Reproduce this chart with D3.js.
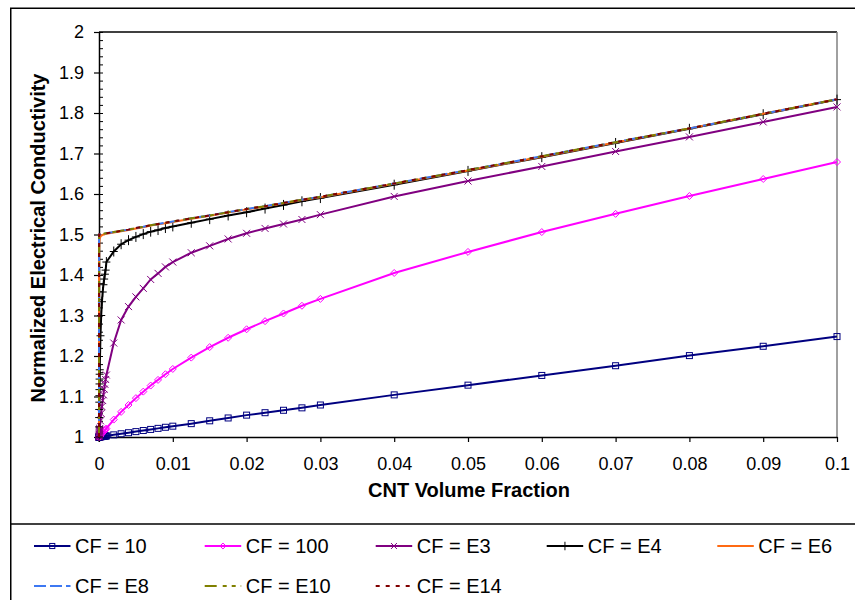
<!DOCTYPE html>
<html>
<head>
<meta charset="utf-8">
<script src="https://cdn.jsdelivr.net/npm/d3@7"></script>
<style>
  body { margin: 0; background: #fff; }
  svg { display: block; }
  text { font-family: "Liberation Sans", Arial, sans-serif; fill: #000; }
</style>
</head>
<body>
<svg id="chart" width="855" height="600"></svg>
<script>
// CNT volume fractions at which conductivity was evaluated
const xValues = [
  0,
  0.00001, 0.00002, 0.00003, 0.00004, 0.00005, 0.00006, 0.00007, 0.00008, 0.00009,
  0.0001, 0.0002, 0.0003, 0.0004, 0.0005, 0.0006, 0.0007, 0.0008, 0.0009,
  0.001, 0.002, 0.003, 0.004, 0.005, 0.006, 0.007, 0.008, 0.009, 0.01,
  0.0125, 0.015, 0.0175, 0.02, 0.0225, 0.025, 0.0275, 0.03,
  0.04, 0.05, 0.06, 0.07, 0.08, 0.09, 0.1
];

// Normalized electrical conductivity for each conductivity factor (CF)
const cf10 = [
  1,
  1.0000, 1.0001, 1.0001, 1.0001, 1.0001, 1.0002, 1.0002, 1.0002, 1.0002,
  1.0003, 1.0005, 1.0008, 1.0011, 1.0013, 1.0016, 1.0019, 1.0021, 1.0024,
  1.0027, 1.0053, 1.008, 1.0106, 1.0133, 1.016, 1.0187, 1.0213, 1.024, 1.0267,
  1.033, 1.040, 1.047, 1.054, 1.060, 1.066, 1.072, 1.079,
  1.104, 1.128, 1.152, 1.176, 1.201, 1.224, 1.248
];
const cf100 = [
  1,
  1.0002, 1.0004, 1.0007, 1.0009, 1.0011, 1.0013, 1.0015, 1.0018, 1.002,
  1.0022, 1.0044, 1.0066, 1.0088, 1.011, 1.013, 1.015, 1.017, 1.019,
  1.021, 1.043, 1.062, 1.079, 1.096, 1.112, 1.127, 1.141, 1.155, 1.168,
  1.196, 1.222, 1.245, 1.266, 1.286, 1.305, 1.324, 1.341,
  1.405, 1.457, 1.506, 1.551, 1.595, 1.637, 1.679
];
const cfE3 = [
  1,
  1.002, 1.004, 1.006, 1.008, 1.01, 1.012, 1.014, 1.016, 1.018,
  1.021, 1.04, 1.058, 1.075, 1.09, 1.104, 1.118, 1.13, 1.142,
  1.153, 1.232, 1.289, 1.322, 1.346, 1.367, 1.389, 1.404, 1.42, 1.432,
  1.455, 1.472, 1.489, 1.503, 1.515, 1.526, 1.537, 1.549,
  1.594, 1.632, 1.668, 1.705, 1.741, 1.778, 1.815
];
const cfE4 = [
  1,
  1.025, 1.048, 1.068, 1.086, 1.102, 1.117, 1.131, 1.143, 1.155,
  1.166, 1.25, 1.3, 1.334, 1.358, 1.376, 1.39, 1.402, 1.412,
  1.432, 1.458, 1.476, 1.486, 1.494, 1.501, 1.507, 1.511, 1.516, 1.52,
  1.529, 1.538, 1.547, 1.555, 1.564, 1.573, 1.582, 1.59,
  1.623, 1.657, 1.691, 1.726, 1.761, 1.797, 1.833
];
const cfE6 = [
  1,
  1.407, 1.449, 1.465, 1.474, 1.478, 1.482, 1.485, 1.487, 1.488,
  1.49, 1.495, 1.497, 1.498, 1.499, 1.5, 1.5, 1.501, 1.501,
  1.502, 1.505, 1.508, 1.511, 1.515, 1.518, 1.522, 1.525, 1.528, 1.531,
  1.539, 1.546, 1.554, 1.562, 1.569, 1.577, 1.585, 1.592,
  1.625, 1.658, 1.692, 1.727, 1.762, 1.798, 1.834
];
const cfE8 = [
  1,
  1.499, 1.499, 1.499, 1.5, 1.5, 1.5, 1.5, 1.5, 1.5,
  1.5, 1.5007, 1.501, 1.5013, 1.5017, 1.502, 1.5023, 1.5027, 1.503,
  1.503, 1.506, 1.509, 1.512, 1.516, 1.519, 1.523, 1.526, 1.529, 1.532,
  1.54, 1.547, 1.555, 1.563, 1.570, 1.578, 1.586, 1.593,
  1.626, 1.659, 1.693, 1.728, 1.762, 1.798, 1.834
];
const cfE10 = [
  1,
  1.5, 1.5, 1.5, 1.5, 1.5, 1.5, 1.5, 1.5, 1.5,
  1.5, 1.5007, 1.501, 1.5013, 1.5017, 1.502, 1.5023, 1.5027, 1.503,
  1.503, 1.506, 1.509, 1.512, 1.516, 1.519, 1.523, 1.526, 1.529, 1.532,
  1.54, 1.547, 1.555, 1.563, 1.570, 1.578, 1.586, 1.593,
  1.626, 1.659, 1.693, 1.728, 1.762, 1.798, 1.834
];
const cfE14 = [
  1,
  1.5, 1.5, 1.5, 1.5, 1.5, 1.5, 1.5, 1.5, 1.5,
  1.5, 1.5007, 1.501, 1.5013, 1.5017, 1.502, 1.5023, 1.5027, 1.503,
  1.503, 1.506, 1.509, 1.512, 1.516, 1.519, 1.523, 1.526, 1.529, 1.532,
  1.54, 1.547, 1.555, 1.563, 1.570, 1.578, 1.586, 1.593,
  1.626, 1.659, 1.693, 1.728, 1.762, 1.798, 1.834
];

const seriesLabels = ["CF = 10", "CF = 100", "CF = E3", "CF = E4", "CF = E6", "CF = E8", "CF = E10", "CF = E14"];
const xTickValues = [0, 0.01, 0.02, 0.03, 0.04, 0.05, 0.06, 0.07, 0.08, 0.09, 0.1];
const yTickValues = [1, 1.1, 1.2, 1.3, 1.4, 1.5, 1.6, 1.7, 1.8, 1.9, 2];
const xTitle = "CNT Volume Fraction";
const yTitle = "Normalized Electrical Conductivity";

// Series styling
const seriesStyle = [
  { values: cf10,  color: "#000080", dash: null, marker: "square" },
  { values: cf100, color: "#ff00ff", dash: null, marker: "diamond" },
  { values: cfE3,  color: "#800080", dash: null, marker: "cross" },
  { values: cfE4,  color: "#000000", dash: null, marker: "plus" },
  { values: cfE6,  color: "#ff6a13", dash: null, marker: null },
  { values: cfE8,  color: "#3d78f2", dash: "12,4", marker: null },
  { values: cfE10, color: "#808000", dash: "12,6,4,5,4,5", marker: null },
  { values: cfE14, color: "#800000", dash: "4,6", marker: null }
];

const svg = d3.select("#chart");
const plot = { left: 99, right: 837, top: 32, bottom: 437 };

const x = d3.scaleLinear().domain([0, 0.1]).range([plot.left, plot.right]);
const y = d3.scaleLinear().domain([1, 2]).range([plot.bottom, plot.top]);

// Chart frame and legend separator
svg.append("rect")
  .attr("x", 10.75).attr("y", 8.25)
  .attr("width", 900).attr("height", 700)
  .attr("fill", "#fff").attr("stroke", "#000").attr("stroke-width", 1.5);
svg.append("line")
  .attr("x1", 10.75).attr("x2", 855).attr("y1", 524).attr("y2", 524)
  .attr("stroke", "#000").attr("stroke-width", 1.5);

// Plot area border (top and right)
svg.append("line")
  .attr("x1", plot.left).attr("x2", plot.right).attr("y1", plot.top).attr("y2", plot.top)
  .attr("stroke", "#000").attr("stroke-width", 1.5);
svg.append("line")
  .attr("x1", plot.right).attr("x2", plot.right).attr("y1", plot.top).attr("y2", plot.bottom)
  .attr("stroke", "#808080").attr("stroke-width", 1.5);

// Y axis with minor ticks pointing inward
const minorY = d3.range(0, 51).map(i => 1 + i * 0.02);
svg.append("g")
  .attr("transform", `translate(${plot.left},0)`)
  .call(d3.axisRight(y).tickValues(minorY).tickSize(4).tickSizeOuter(0).tickFormat(""))
  .call(g => g.select(".domain").remove())
  .call(g => g.selectAll("line").attr("stroke", "#000").attr("stroke-width", 1));

const yAxis = svg.append("g")
  .attr("transform", `translate(${plot.left},0)`)
  .call(d3.axisLeft(y).tickValues(yTickValues).tickSize(5).tickSizeOuter(0).tickPadding(10)
    .tickFormat(d3.format("")));
yAxis.select(".domain").attr("stroke", "#000").attr("stroke-width", 1.5);
yAxis.selectAll("line").attr("stroke", "#000").attr("stroke-width", 1.2);
yAxis.selectAll("text").attr("font-size", 18).attr("font-family", "Liberation Sans, Arial, sans-serif");

const xAxis = svg.append("g")
  .attr("transform", `translate(0,${plot.bottom})`)
  .call(d3.axisBottom(x).tickValues(xTickValues).tickSize(5).tickSizeOuter(0).tickPadding(15)
    .tickFormat(d3.format("")));
xAxis.select(".domain").attr("stroke", "#000").attr("stroke-width", 1.5);
xAxis.selectAll("line").attr("stroke", "#000").attr("stroke-width", 1.2);
xAxis.selectAll("text").attr("font-size", 18).attr("font-family", "Liberation Sans, Arial, sans-serif");

// Axis titles
svg.append("text")
  .attr("x", 469).attr("y", 497)
  .attr("text-anchor", "middle")
  .attr("font-size", 20).attr("font-weight", "bold")
  .text(xTitle);
svg.append("text")
  .attr("transform", "translate(44.5,238) rotate(-90)")
  .attr("text-anchor", "middle")
  .attr("font-size", 20).attr("font-weight", "bold")
  .text(yTitle);

// Marker drawing
function drawMarker(g, type, color, scale) {
  const k = scale || 1;
  if (type === "square") {
    g.append("rect").attr("x", -3 * k).attr("y", -3 * k).attr("width", 6 * k).attr("height", 6 * k)
      .attr("fill", "none").attr("stroke", color).attr("stroke-width", 1);
  } else if (type === "diamond") {
    const r = 3.5 * k;
    g.append("path").attr("d", `M0,${-r}L${r},0L0,${r}L${-r},0Z`)
      .attr("fill", "none").attr("stroke", color).attr("stroke-width", 1);
  } else if (type === "cross") {
    const r = 3.5 * k;
    g.append("path").attr("d", `M${-r},${-r}L${r},${r}M${-r},${r}L${r},${-r}`)
      .attr("fill", "none").attr("stroke", color).attr("stroke-width", 1);
  } else if (type === "plus") {
    g.append("path").attr("d", `M0,${-5 * k}L0,${5 * k}M${-4 * k},0L${4 * k},0`)
      .attr("fill", "none").attr("stroke", color).attr("stroke-width", 1);
  }
}

const line = d3.line().x(d => x(d[0])).y(d => y(d[1]));

// Series lines and markers
seriesStyle.forEach(s => {
  const pts = xValues.map((xv, i) => [xv, s.values[i]]);
  const g = svg.append("g");
  g.append("path")
    .datum(pts)
    .attr("d", line)
    .attr("fill", "none")
    .attr("stroke", s.color)
    .attr("stroke-width", 2)
    .attr("stroke-dasharray", s.dash);
  if (s.marker) {
    pts.forEach(p => {
      const m = g.append("g").attr("transform", `translate(${x(p[0])},${y(p[1])})`);
      drawMarker(m, s.marker, s.color);
    });
  }
});

// Legend
const legendCols = [34, 204.7, 375.7, 546.7, 717.3];
const legendRows = [546, 586];
seriesStyle.forEach((s, i) => {
  const cx = legendCols[i % 5];
  const cy = legendRows[Math.floor(i / 5)];
  const g = svg.append("g").attr("transform", `translate(${cx},${cy})`);
  g.append("line").attr("x1", 0).attr("x2", 36.5).attr("y1", 0).attr("y2", 0)
    .attr("stroke", s.color).attr("stroke-width", 2).attr("stroke-dasharray", s.dash);
  if (s.marker) {
    const m = g.append("g").attr("transform", "translate(18.25,0)");
    drawMarker(m, s.marker, s.color, 0.85);
  }
  g.append("text").attr("x", 41).attr("y", 7).attr("font-size", 20).text(seriesLabels[i]);
});
</script>
</body>
</html>
